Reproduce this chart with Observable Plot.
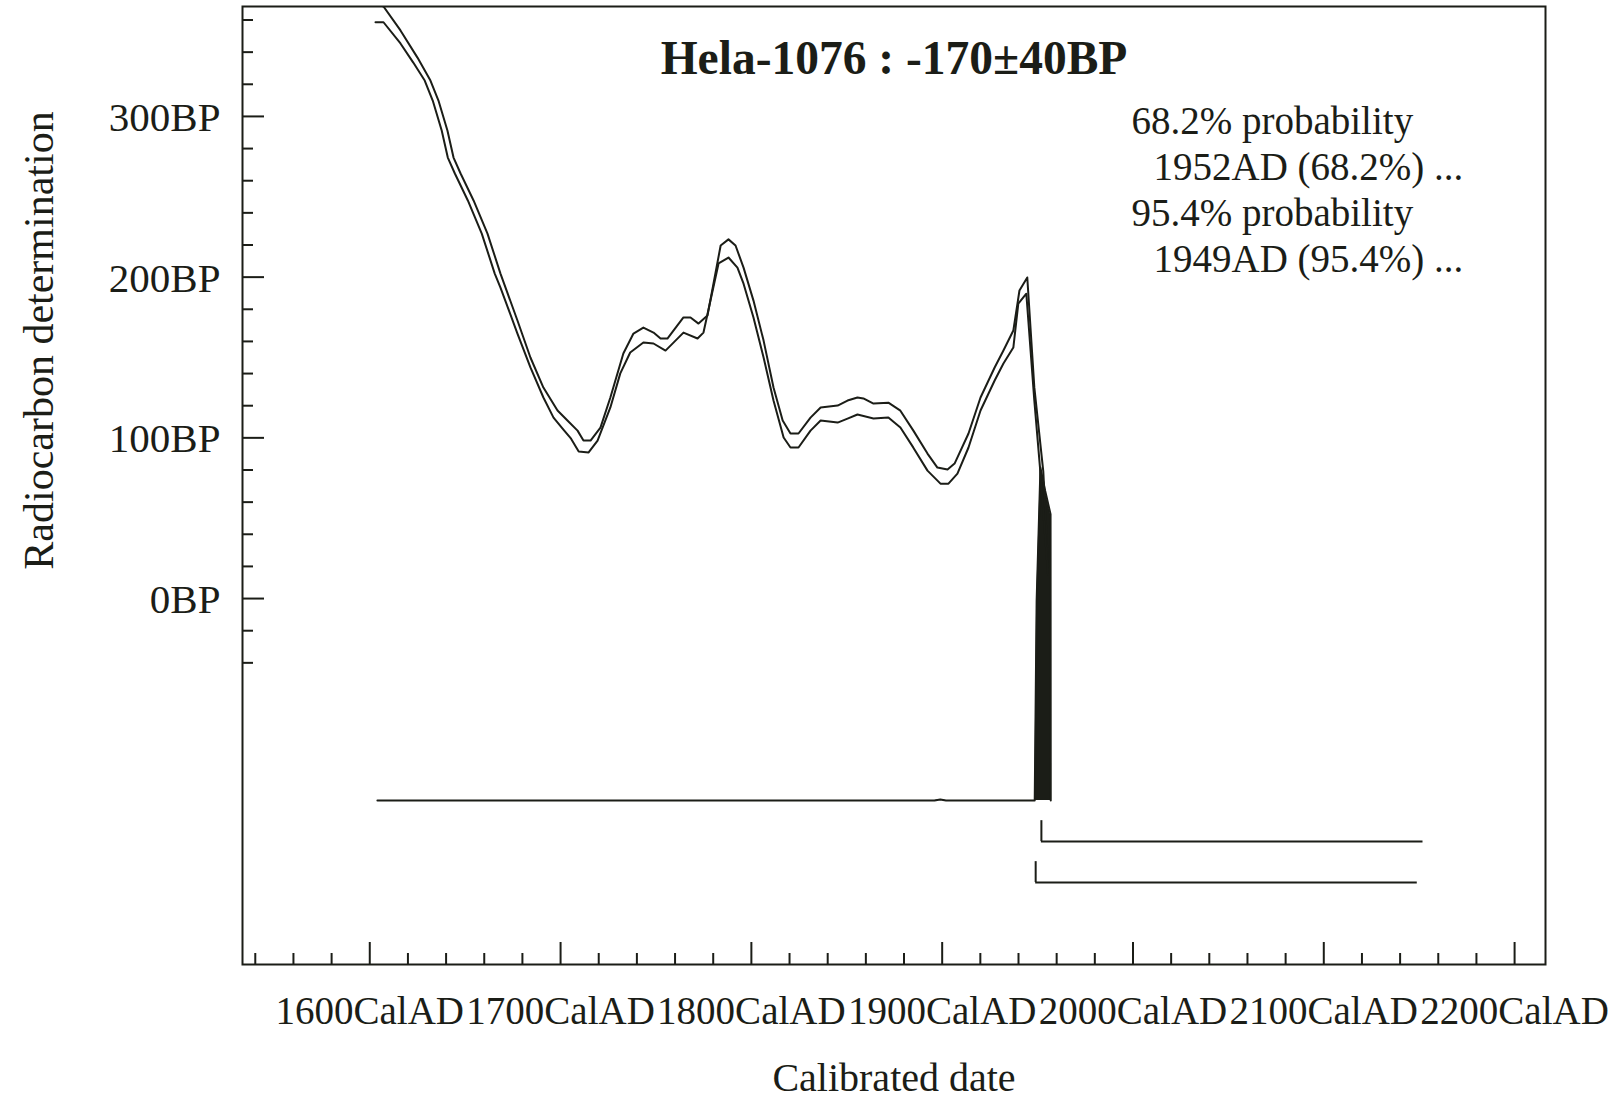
<!DOCTYPE html>
<html>
<head>
<meta charset="utf-8">
<script src="https://cdn.jsdelivr.net/npm/d3@7"></script>
<script src="https://cdn.jsdelivr.net/npm/@observablehq/plot@0.6"></script>
<style>
  html, body { margin: 0; padding: 0; background: #ffffff; }
  #chart svg { display: block; }
</style>
</head>
<body>
<div id="chart"></div>
<script>
// ---------- texts ----------
const title = "Hela-1076 : -170±40BP";
const xLabel = "Calibrated date";
const yLabel = "Radiocarbon determination";
const legendLines = ["68.2% probability", "1952AD (68.2%) ...", "95.4% probability", "1949AD (95.4%) ..."];

// ---------- ticks ----------
const xMajorTicks = [1600, 1700, 1800, 1900, 2000, 2100, 2200];
const xMinorTicks = d3.range(1540, 2201, 20).filter(v => !xMajorTicks.includes(v));
const yMajorTicks = [0, 100, 200, 300];
const yMinorTicks = d3.range(-40, 361, 20).filter(v => !yMajorTicks.includes(v));

// ---------- calibration curve (upper / lower 1-sigma lines) ----------
const upperYears = [1603.0, 1607.2, 1616.1, 1625.0, 1631.8, 1636.0, 1640.7, 1643.9, 1647.6, 1654.4, 1661.7, 1668.5, 1677.4, 1684.2, 1691.0, 1698.4, 1703.6, 1708.9, 1712.0, 1715.7, 1720.9, 1726.1, 1732.9, 1738.2, 1743.4, 1748.7, 1752.4, 1756.0, 1764.4, 1768.1, 1772.3, 1777.0, 1783.9, 1788.0, 1791.7, 1795.9, 1801.1, 1806.4, 1811.6, 1816.4, 1820.5, 1824.7, 1831.0, 1836.3, 1845.2, 1850.4, 1855.6, 1858.7, 1864.0, 1871.8, 1878.1, 1884.9, 1892.3, 1897.5, 1902.8, 1906.5, 1913.8, 1920.1, 1927.5, 1932.1, 1937.3, 1940.5, 1944.6, 1948.3, 1953.0, 1955.5];
const upperBP = [370, 368.4, 353.5, 336.6, 322.3, 309.9, 291.2, 274.4, 264.5, 247.7, 227.1, 202.2, 173.0, 150.0, 131.3, 117.0, 110.8, 104.5, 98.3, 98.3, 106.4, 125.1, 152.5, 164.9, 168.6, 165.5, 161.8, 161.8, 174.9, 174.9, 171.1, 176.1, 219.7, 223.5, 219.7, 205.9, 185.4, 160.5, 131.3, 110.8, 102.7, 102.7, 112.6, 118.9, 120.1, 123.2, 125.1, 124.5, 121.3, 121.9, 116.9, 104.5, 90.2, 81.5, 80.3, 84.0, 102.7, 125.1, 143.8, 154.3, 166.8, 191.7, 199.8, 131.4, 79.0, 20];

const lowerYears = [1603.0, 1607.2, 1616.1, 1622.8, 1628.8, 1633.0, 1637.7, 1640.9, 1644.6, 1651.4, 1658.7, 1665.5, 1668.5, 1677.4, 1684.2, 1691.0, 1696.3, 1701.6, 1705.5, 1709.5, 1714.7, 1719.4, 1726.1, 1731.3, 1736.5, 1743.4, 1748.7, 1755.0, 1764.4, 1771.8, 1774.9, 1782.8, 1788.0, 1792.7, 1795.9, 1801.1, 1806.4, 1811.6, 1816.9, 1820.5, 1824.7, 1831.0, 1836.3, 1845.2, 1850.4, 1855.6, 1864.0, 1871.8, 1878.1, 1884.9, 1892.3, 1899.1, 1903.3, 1908.0, 1913.8, 1920.1, 1927.5, 1932.1, 1937.3, 1939.9, 1944.1, 1948.3, 1951.4, 1955.5];
const lowerBP = [358.6, 358.6, 345.4, 333.5, 322.3, 309.9, 291.2, 274.4, 264.5, 247.7, 227.1, 202.2, 193.5, 164.9, 143.8, 125.1, 112.6, 105.0, 99.5, 91.5, 90.9, 98.3, 118.9, 140.1, 153.1, 159.3, 158.7, 154.3, 165.5, 161.8, 165.5, 208.5, 212.2, 205.9, 195.9, 174.9, 150.0, 123.2, 100.2, 94.0, 94.0, 104.5, 110.8, 109.5, 112.0, 114.5, 112.0, 112.6, 106.4, 93.9, 79.6, 71.5, 71.5, 77.7, 94.0, 117.0, 135.7, 146.3, 156.2, 183.5, 189.7, 123.2, 79.6, 15];

// ---------- calibrated probability distribution (relative) ----------
const distYears = [1604, 1896, 1899, 1902, 1948.5, 1949.5, 1951.5, 1954, 1956.8, 1956.9];
const distProb  = [0, 0, 0.003, 0, 0, 0.6, 1.0, 0.93, 0.86, 0];

// ---------- calibrated ranges ----------
const rangeNames = ["68.2%", "95.4%"];
const rangeFrom = [1952, 1949];
const rangeTo = [2152, 2149];

// ---------- build tables ----------
const upper = upperYears.map((x, i) => ({year: x, bp: upperBP[i]}));
const lower = lowerYears.map((x, i) => ({year: x, bp: lowerBP[i]}));
const dist = distYears.map((x, i) => ({year: x, p: distProb[i]}));
const ranges = rangeNames.map((n, i) => ({name: n, row: i, from: rangeFrom[i], to: rangeTo[i]}));

// ---------- layout (in y-scale units) ----------
const distBase = -125.7, distScale = 207.2;
const rowY = r => -151.2 - 25.5 * r;
const rowTick = 13;

const ink = "#1b1d17";
const W = 1622, H = 1100;
const mL = 242, mR = 77, mT = 6, mB = 136;
const fw = W - mL - mR, fh = H - mT - mB;
const font = "'Liberation Serif', 'Times New Roman', serif";

const chart = Plot.plot({
  width: W, height: H,
  marginLeft: mL, marginRight: mR, marginTop: mT, marginBottom: mB,
  x: {domain: [1533.3, 2216.2], axis: null},
  y: {domain: [-227.7, 368.4], axis: null},
  style: {fontFamily: font, background: "#ffffff", color: ink, overflow: "visible"},
  marks: [
    // probability distribution
    Plot.areaY(dist, {x: "year", y1: distBase, y2: d => distBase + d.p * distScale, fill: ink, curve: "linear"}),
    Plot.line(dist, {x: "year", y: d => distBase + d.p * distScale, stroke: ink, strokeWidth: 2}),
    // calibration curve
    Plot.line(upper, {x: "year", y: "bp", stroke: ink, strokeWidth: 2, clip: true}),
    Plot.line(lower, {x: "year", y: "bp", stroke: ink, strokeWidth: 2, clip: true}),
    // range brackets
    Plot.ruleY(ranges, {x1: "from", x2: "to", y: d => rowY(d.row), stroke: ink, strokeWidth: 2}),
    Plot.ruleX(ranges, {x: "from", y1: d => rowY(d.row), y2: d => rowY(d.row) + rowTick, stroke: ink, strokeWidth: 2}),
    // frame
    Plot.frame({stroke: ink, strokeWidth: 2}),
    // y ticks (inward)
    Plot.tickY(yMinorTicks, {y: d => d, stroke: ink, strokeWidth: 2, insetRight: fw - 11}),
    Plot.tickY(yMajorTicks, {y: d => d, stroke: ink, strokeWidth: 2, insetRight: fw - 22}),
    // x ticks (inward)
    Plot.tickX(xMinorTicks, {x: d => d, stroke: ink, strokeWidth: 2, insetTop: fh - 11}),
    Plot.tickX(xMajorTicks, {x: d => d, stroke: ink, strokeWidth: 2, insetTop: fh - 22}),
    // tick labels
    Plot.text(yMajorTicks, {y: d => d, text: d => `${d}BP`, frameAnchor: "left", textAnchor: "end", lineAnchor: "bottom", dx: -22, dy: 14.5, fontSize: 41, fill: ink}),
    Plot.text(xMajorTicks, {x: d => d, text: d => `${d}CalAD`, frameAnchor: "bottom", textAnchor: "middle", lineAnchor: "bottom", dy: 59, fontSize: 39, fill: ink}),
    // axis titles
    Plot.text([xLabel], {text: d => d, frameAnchor: "bottom", textAnchor: "middle", lineAnchor: "bottom", dy: 126, fontSize: 40, fill: ink}),
    Plot.text([yLabel], {text: d => d, frameAnchor: "left", textAnchor: "middle", rotate: -90, lineAnchor: "bottom", dx: -190, dy: -145, fontSize: 42, fill: ink}),
    // title
    Plot.text([title], {text: d => d, frameAnchor: "top", textAnchor: "middle", lineAnchor: "bottom", dy: 67, fontSize: 47.5, fontWeight: "bold", fill: ink}),
    // legend lines
    Plot.text([legendLines[0]], {text: d => d, frameAnchor: "top-left", textAnchor: "start", lineAnchor: "bottom", dx: 889, dy: 127, fontSize: 39, fill: ink}),
    Plot.text([legendLines[1]], {text: d => d, frameAnchor: "top-left", textAnchor: "start", lineAnchor: "bottom", dx: 911, dy: 173, fontSize: 39, fill: ink}),
    Plot.text([legendLines[2]], {text: d => d, frameAnchor: "top-left", textAnchor: "start", lineAnchor: "bottom", dx: 889, dy: 219, fontSize: 39, fill: ink}),
    Plot.text([legendLines[3]], {text: d => d, frameAnchor: "top-left", textAnchor: "start", lineAnchor: "bottom", dx: 911, dy: 265, fontSize: 39, fill: ink})
  ]
});
document.getElementById("chart").appendChild(chart);
</script>
</body>
</html>
